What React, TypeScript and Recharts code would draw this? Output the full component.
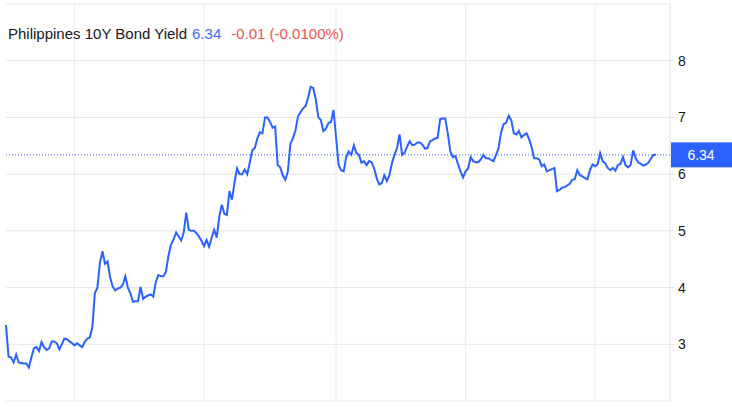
import { LineChart, Line, XAxis, YAxis, CartesianGrid, ReferenceLine } from "recharts";

// weekly closes, mid 2020 -> mid 2025
const yields = [
  3.34, 2.78, 2.77, 2.68, 2.82, 2.68, 2.67, 2.66, 2.66, 2.59,
  2.77, 2.93, 2.95, 2.88, 3.04, 2.95, 2.9, 2.93, 3.05, 3.05,
  3.02, 2.91, 3.0, 3.1, 3.09, 3.05, 3.02, 2.98, 3.02, 2.98,
  2.95, 3.04, 3.1, 3.12, 3.3, 3.9, 4.0, 4.44, 4.64, 4.42,
  4.46, 4.18, 4.02, 3.95, 3.98, 4.0, 4.05, 4.2, 4.0, 3.9,
  3.75, 3.76, 3.76, 4.01, 3.8, 3.84, 3.86, 3.88, 3.84, 4.1,
  4.22, 4.2, 4.2, 4.28, 4.56, 4.76, 4.85, 4.97, 4.9, 4.83,
  4.97, 5.32, 5.02, 5.0, 5.0, 4.96, 4.9, 4.82, 4.73, 4.84,
  4.72, 4.88, 5.02, 4.88, 5.25, 5.46, 5.3, 5.28, 5.7, 5.55,
  5.85, 6.1, 6.0, 6.0, 6.08, 6.0, 6.2, 6.42, 6.46, 6.63,
  6.74, 6.72, 7.0, 7.0, 6.92, 6.82, 6.84, 6.16, 6.12, 5.98,
  5.9, 6.04, 6.53, 6.63, 6.77, 7.02, 7.09, 7.16, 7.2, 7.35,
  7.54, 7.52, 7.32, 7.01, 6.95, 6.76, 6.8, 6.9, 6.92, 7.13,
  6.65, 6.16, 6.07, 6.05, 6.3, 6.4, 6.34, 6.51, 6.37, 6.34,
  6.2, 6.23, 6.16, 6.23, 6.21, 6.1, 5.93, 5.82, 5.84, 5.98,
  5.88, 5.98, 6.19, 6.34, 6.46, 6.7, 6.34, 6.38, 6.49, 6.58,
  6.51, 6.52, 6.56, 6.56, 6.52, 6.45, 6.46, 6.58, 6.6, 6.63,
  6.64, 6.97, 6.98, 6.98, 6.72, 6.4, 6.3, 6.32, 6.18, 6.05,
  5.94, 6.05, 6.1, 6.3, 6.23, 6.21, 6.21, 6.26, 6.34, 6.28,
  6.28, 6.25, 6.23, 6.34, 6.46, 6.74, 6.88, 6.91, 7.03, 6.95,
  6.72, 6.7, 6.76, 6.65, 6.69, 6.72, 6.62, 6.48, 6.28, 6.28,
  6.26, 6.14, 6.17, 6.05, 6.07, 6.09, 6.11, 5.7, 5.72, 5.76,
  5.77, 5.8, 5.83, 5.9, 5.91, 6.07, 5.98, 5.96, 5.93, 5.91,
  6.07, 6.17, 6.14, 6.17, 6.37, 6.23, 6.19, 6.11, 6.07, 6.11,
  6.06, 6.16, 6.18, 6.3, 6.16, 6.12, 6.16, 6.42, 6.28, 6.21,
  6.18, 6.15, 6.17, 6.2, 6.27, 6.34, 6.34,
];

// first week of 2021 .. 2025
const yearStarts = [27, 78, 130, 181, 232];
const yTicks = [3, 4, 5, 6, 7, 8];

const title = "Philippines 10Y Bond Yield";
const lastValue = 6.34;
const change = "-0.01";
const changePct = "(-0.0100%)";

const data = yields.map((v, i) => ({ week: i, yield: v }));

const BLUE = "#2962ff";

function PriceTag(props: any) {
  const { viewBox } = props;
  if (!viewBox) return null;
  const x = viewBox.x + viewBox.width + 1;
  const y = viewBox.y;
  return (
    <g>
      <rect x={x} y={y - 12.5} width={61} height={25} fill={BLUE} />
      <text x={x + 30} y={y + 5} textAnchor="middle" fill="#fff" fontSize={14}>
        {lastValue.toFixed(2)}
      </text>
    </g>
  );
}

export default function App() {
  return (
    <div
      style={{
        position: "absolute",
        left: 0,
        top: 0,
        width: 732,
        height: 408,
        background: "#fff",
        fontFamily: "'Liberation Sans', Arial, sans-serif",
      }}
    >
      <LineChart width={732} height={408} data={data} margin={{ top: 4, right: 0, bottom: 7, left: 6 }}>
        <CartesianGrid vertical={false} stroke="#e6e6e6" />
        <XAxis
          dataKey="week"
          type="category"
          ticks={yearStarts}
          height={0}
          tick={false}
          tickLine={false}
          axisLine={{ stroke: "#e0e0e0" }}
          padding={{ left: 0, right: 14 }}
        />
        <YAxis
          orientation="right"
          width={62}
          domain={[2, 9]}
          ticks={yTicks}
          axisLine={{ stroke: "#e0e0e0" }}
          tickLine={{ stroke: "#e0e0e0" }}
          tickSize={4}
          tickMargin={4}
          tick={{ fill: "#131722", fontSize: 14 }}
        />
        {yearStarts.map((w) => (
          <ReferenceLine key={w} x={w} stroke="#e9edf2" strokeWidth={1} />
        ))}
        <ReferenceLine
          y={lastValue}
          stroke={BLUE}
          strokeDasharray="1 2"
          strokeWidth={1}
          label={<PriceTag />}
          ifOverflow="visible"
        />
        <Line
          type="linear"
          dataKey="yield"
          stroke={BLUE}
          strokeWidth={2}
          dot={false}
          activeDot={false}
          isAnimationActive={false}
        />
      </LineChart>
      <div
        style={{
          position: "absolute",
          left: 8,
          top: 26,
          fontSize: 15,
          lineHeight: "16px",
          color: "#131722",
          whiteSpace: "nowrap",
        }}
      >
        {title}
        <span style={{ color: "#3b6cf6", marginLeft: 5 }}>{lastValue.toFixed(2)}</span>
        <span style={{ color: "#ef5350", marginLeft: 10 }}>
          {change} {changePct}
        </span>
      </div>
    </div>
  );
}
